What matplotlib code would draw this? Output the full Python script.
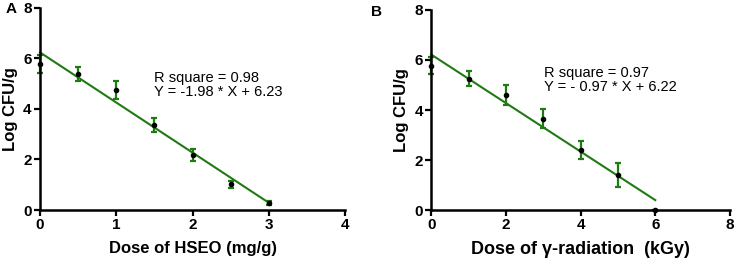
import matplotlib.pyplot as plt

plt.rcParams['font.family'] = ['Liberation Sans', 'DejaVu Sans']

# Panel A: HSEO dose
dosis_a = [0, 0.5, 1, 1.5, 2, 2.5, 3]
log_cfu_a = [5.78, 5.38, 4.75, 3.35, 2.18, 1.02, 0.27]
err_a = [0.35, 0.28, 0.37, 0.27, 0.25, 0.15, 0.08]
pendiente_a, intercepto_a = -1.98, 6.23

# Panel B: gamma radiation
dosis_b = [0, 1, 2, 3, 4, 5, 6]
log_cfu_b = [5.78, 5.25, 4.6, 3.65, 2.4, 1.4, 0.0]
err_b = [0.35, 0.3, 0.39, 0.38, 0.37, 0.47, 0.0]
pendiente_b, intercepto_b = -0.97, 6.22

verde = '#1f7a14'


def dibujar_panel(ax, x, y, err, m, b, x_fin, xticks, xlabel, tam_xlabel,
                  texto, pos_texto):
    barras = ax.errorbar(x, y, yerr=err, fmt='none', ecolor=verde, elinewidth=1.6,
                         capsize=2.5, capthick=1.6, zorder=2)
    for parte in barras.lines[1] + barras.lines[2]:
        parte.set_clip_on(False)
    ax.plot(x, y, 'o', color='black', markersize=3, zorder=3, clip_on=False)
    ax.plot([0, x_fin], [b, b + m * x_fin], color=verde, lw=1.5, zorder=2,
            clip_on=False)
    ax.set_xlim(xticks[0], xticks[-1])
    ax.set_ylim(0, 8)
    ax.set_xticks(xticks)
    ax.set_yticks([0, 2, 4, 6, 8])
    for s in ['top', 'right']:
        ax.spines[s].set_visible(False)
    for s in ['left', 'bottom']:
        ax.spines[s].set_linewidth(1.8)
    ax.tick_params(width=1.6, length=4, labelsize=11, pad=2)
    for lbl in ax.get_xticklabels() + ax.get_yticklabels():
        lbl.set_fontweight('bold')
    ax.set_xlabel(xlabel, fontsize=tam_xlabel, fontweight='bold', labelpad=6)
    ax.set_ylabel('Log CFU/g', fontsize=12, fontweight='bold', labelpad=4)
    ax.text(pos_texto[0], pos_texto[1], texto, fontsize=10.5, linespacing=1.0,
            va='center', ha='left')


fig = plt.figure(figsize=(7.37, 2.62), dpi=100)
ax_a = fig.add_axes([0.0543, 0.198, 0.414, 0.773])
ax_b = fig.add_axes([0.585, 0.198, 0.4055, 0.764])

dibujar_panel(ax_a, dosis_a, log_cfu_a, err_a, pendiente_a, intercepto_a, 3,
              [0, 1, 2, 3, 4], 'Dose of HSEO (mg/g)', 12,
              'R square = 0.98\nY = -1.98 * X + 6.23', (1.5, 4.95))
dibujar_panel(ax_b, dosis_b, log_cfu_b, err_b, pendiente_b, intercepto_b, 6,
              [0, 2, 4, 6, 8], 'Dose of γ-radiation  (kGy)', 13,
              'R square = 0.97\nY = - 0.97 * X + 6.22', (3.02, 5.22))

fig.text(0.008, 0.965, 'A', fontsize=11, fontweight='bold', va='center')
fig.text(0.504, 0.955, 'B', fontsize=11, fontweight='bold', va='center')

fig.savefig('out.png', dpi=100)
